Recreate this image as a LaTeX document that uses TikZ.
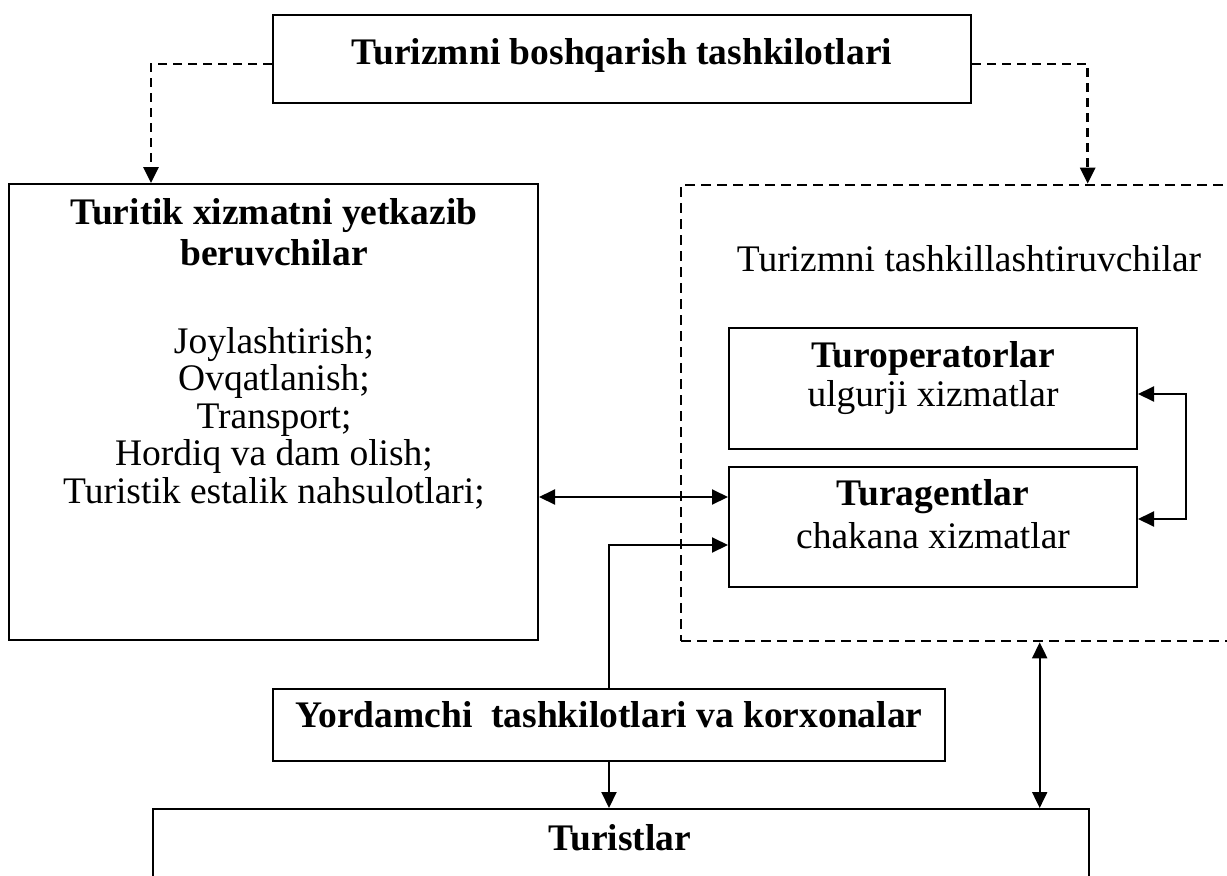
\documentclass[tikz,border=0pt]{standalone}
\usepackage{fontspec}
\setmainfont{Liberation Serif}
\usetikzlibrary{arrows.meta}

\tikzset{
  box/.style={draw, line width=2pt, inner sep=0pt, fill=none},
  dbox/.style={draw, line width=2.6pt, dash pattern=on 10pt off 6pt, inner sep=0pt},
  txt/.style={anchor=base, inner sep=0pt, font=\fontsize{37.5}{40}\selectfont},
  btxt/.style={txt, font=\fontsize{37.5}{40}\selectfont\bfseries},
  conn/.style={line width=2pt, -{Triangle[length=16pt,width=15pt]}},
  dconn/.style={conn, line width=2.8pt, dash pattern=on 9pt off 6pt},
  both/.style={line width=2pt, {Triangle[length=16pt,width=15pt]}-{Triangle[length=16pt,width=15pt]}}
}

\begin{document}
\begin{tikzpicture}[x=1pt,y=-1pt]
  \useasboundingbox (0,0) rectangle (1227,876);
  \fill[white] (0,0) rectangle (1227,876);
  \clip (0,0) rectangle (1227,876);

  % frames
  \node[box, minimum width=698pt, minimum height=88pt]  (top) at (622,59) {};
  \node[box, minimum width=529pt, minimum height=456pt] (prov) at (273.5,412) {};
  \node[dbox, minimum width=619pt, minimum height=456pt] (org) at (990.5,413) {};
  \node[box, minimum width=408pt, minimum height=121pt] (tuop) at (933,388.5) {};
  \node[box, minimum width=408pt, minimum height=120pt] (tuag) at (933,527) {};
  \node[box, minimum width=672pt, minimum height=72pt]  (aux) at (609,725) {};
  \node[box, minimum width=936pt, minimum height=191pt] (tour) at (621,904.5) {};

  % texts
  \node[btxt] (ttop) at (622,64) {Turizmni boshqarish tashkilotlari};
  \node[btxt] (tprov1) at (274,224) {Turitik xizmatni yetkazib};
  \node[btxt] (tprov2) at (274,265) {beruvchilar};
  \foreach \t [count=\i] in {Joylashtirish;, Ovqatlanish;, Transport;, Hordiq va dam olish;, Turistik estalik nahsulotlari;}
    \node[txt] (item\i) at (274,{353+37.5*(\i-1)}) {\t};
  \node[txt] (torg) at (969,271) {Turizmni tashkillashtiruvchilar};
  \node[btxt] (ttuop1) at (933,367) {Turoperatorlar};
  \node[txt]  (ttuop2) at (933,406) {ulgurji xizmatlar};
  \node[btxt] (ttuag1) at (933,505) {Turagentlar};
  \node[txt]  (ttuag2) at (933,548) {chakana xizmatlar};
  \node[btxt] (taux) at (609,727) {Yordamchi\ \ tashkilotlari va korxonalar};
  \node[btxt] (ttour) at (620,850) {Turistlar};

  % connectors
  \draw[dconn] ([yshift=-5pt]top.west) -| ([xshift=143pt]prov.north west);
  \draw[dconn] ([yshift=-5pt]top.east) -| ([xshift=408pt]org.north west);

  \draw[both] ([yshift=-5.5pt]tuop.east) -- ++(48,0) |- ([yshift=8pt]tuag.east);

  \coordinate (pa) at ([yshift=30pt]tuag.west);
  \draw[both] (prov.east |- pa) -- (pa);

  \draw[conn] (aux.north) |- ([yshift=-18pt]tuag.west);
  \draw[conn] (aux.south) -- (aux.south |- tour.north);

  \coordinate (ov) at ([xshift=360pt]org.south west);
  \draw[both] (ov) -- (ov |- tour.north);
\end{tikzpicture}
\end{document}
